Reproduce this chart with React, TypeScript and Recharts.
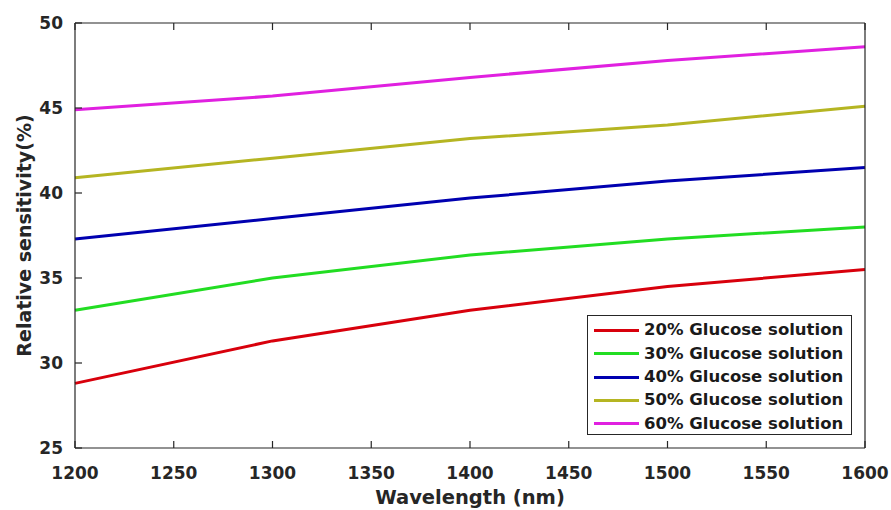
import { Legend, Line, LineChart, XAxis, YAxis } from "recharts";

const wavelength = [1200, 1300, 1400, 1500, 1600];
const glucose20 = [28.8, 31.3, 33.1, 34.5, 35.5];
const glucose30 = [33.1, 35.0, 36.35, 37.3, 38.0];
const glucose40 = [37.3, 38.5, 39.7, 40.7, 41.5];
const glucose50 = [40.9, 42.05, 43.2, 44.0, 45.1];
const glucose60 = [44.9, 45.7, 46.8, 47.8, 48.6];

const xTicks = [1200, 1250, 1300, 1350, 1400, 1450, 1500, 1550, 1600];
const yTicks = [25, 30, 35, 40, 45, 50];

const series = [
  { key: "g20", name: "20% Glucose solution", values: glucose20, color: "#d8000c" },
  { key: "g30", name: "30% Glucose solution", values: glucose30, color: "#22dd22" },
  { key: "g40", name: "40% Glucose solution", values: glucose40, color: "#0000b0" },
  { key: "g50", name: "50% Glucose solution", values: glucose50, color: "#b5b522" },
  { key: "g60", name: "60% Glucose solution", values: glucose60, color: "#e020e0" },
];

const data = wavelength.map((w, i) => {
  const row: Record<string, number> = { wavelength: w };
  series.forEach((s) => (row[s.key] = s.values[i]));
  return row;
});

const ink = "#262626";
const TICK_LEN = 7;

// tickSize/tickMargin are 0 on every axis, so x/y sit on the axis line;
// each tick draws its own inward mark (and a label on bottom/left)
function BottomTick({ x, y, payload }: any) {
  return (
    <g>
      <line x1={x} x2={x} y1={y} y2={y - TICK_LEN} stroke={ink} strokeWidth={1.2} />
      <text x={x} y={y + 31} textAnchor="middle" fontSize={17} fontWeight="bold" fill={ink}>
        {payload.value}
      </text>
    </g>
  );
}

function LeftTick({ x, y, payload }: any) {
  return (
    <g>
      <line x1={x} x2={x + TICK_LEN} y1={y} y2={y} stroke={ink} strokeWidth={1.2} />
      <text x={x - 12} y={y} dy="0.36em" textAnchor="end" fontSize={17} fontWeight="bold" fill={ink}>
        {payload.value}
      </text>
    </g>
  );
}

function TopTick({ x, y }: any) {
  return <line x1={x} x2={x} y1={y} y2={y + TICK_LEN} stroke={ink} strokeWidth={1.2} />;
}

function RightTick({ x, y }: any) {
  return <line x1={x} x2={x - TICK_LEN} y1={y} y2={y} stroke={ink} strokeWidth={1.2} />;
}

function GlucoseLegend({ payload }: any) {
  return (
    <div
      style={{
        boxSizing: "border-box",
        width: 265,
        height: 120,
        border: `1px solid ${ink}`,
        background: "#fff",
        padding: "3px 0 0 6px",
        fontFamily: "DejaVu Sans",
        fontWeight: "bold",
        fontSize: 16.5,
        color: "#1a1a1a",
      }}
    >
      {(payload ?? []).map((p: any) => (
        <div key={p.value} style={{ display: "flex", alignItems: "center", height: 23.3 }}>
          <span style={{ width: 45, height: 3, background: p.color, marginRight: 5 }} />
          <span style={{ lineHeight: 1, whiteSpace: "nowrap" }}>{p.value}</span>
        </div>
      ))}
    </div>
  );
}

export default function App() {
  return (
    <div style={{ position: "absolute", left: 0, top: 0, width: 891, height: 510, background: "#fff" }}>
      <LineChart
        width={891}
        height={510}
        data={data}
        margin={{ top: 22, right: 25, bottom: 0, left: 0 }}
        style={{ fontFamily: "DejaVu Sans" }}
      >
        <XAxis
          dataKey="wavelength"
          type="number"
          domain={[1200, 1600]}
          ticks={xTicks}
          interval={0}
          height={62}
          tickSize={0}
          tickMargin={0}
          tickLine={false}
          stroke={ink}
          strokeWidth={1.2}
          tick={<BottomTick />}
          label={{
            value: "Wavelength (nm)",
            position: "insideBottom",
            offset: 6,
            style: { fontSize: 19.5, fontWeight: "bold", fill: ink },
          }}
        />
        <XAxis
          xAxisId="top"
          orientation="top"
          dataKey="wavelength"
          type="number"
          domain={[1200, 1600]}
          ticks={xTicks}
          interval={0}
          height={1}
          tickSize={0}
          tickMargin={0}
          tickLine={false}
          stroke={ink}
          strokeWidth={1.2}
          tick={<TopTick />}
        />
        <YAxis
          type="number"
          domain={[25, 50]}
          ticks={yTicks}
          interval={0}
          width={75}
          tickSize={0}
          tickMargin={0}
          tickLine={false}
          stroke={ink}
          strokeWidth={1.2}
          tick={<LeftTick />}
          label={{
            value: "Relative sensitivity(%)",
            angle: -90,
            position: "insideLeft",
            offset: 24,
            style: { fontSize: 19, fontWeight: "bold", fill: ink, textAnchor: "middle" },
          }}
        />
        <YAxis
          yAxisId="right"
          orientation="right"
          type="number"
          domain={[25, 50]}
          ticks={yTicks}
          interval={0}
          width={1}
          tickSize={0}
          tickMargin={0}
          tickLine={false}
          stroke={ink}
          strokeWidth={1.2}
          tick={<RightTick />}
        />
        <Legend
          layout="vertical"
          align="center"
          verticalAlign="middle"
          content={<GlucoseLegend />}
          wrapperStyle={{ left: 587, top: 315, width: 265, height: 120 }}
        />
        {series.map((s) => (
          <Line
            key={s.key}
            dataKey={s.key}
            name={s.name}
            type="linear"
            stroke={s.color}
            strokeWidth={3}
            dot={false}
            activeDot={false}
            isAnimationActive={false}
          />
        ))}
      </LineChart>
    </div>
  );
}
